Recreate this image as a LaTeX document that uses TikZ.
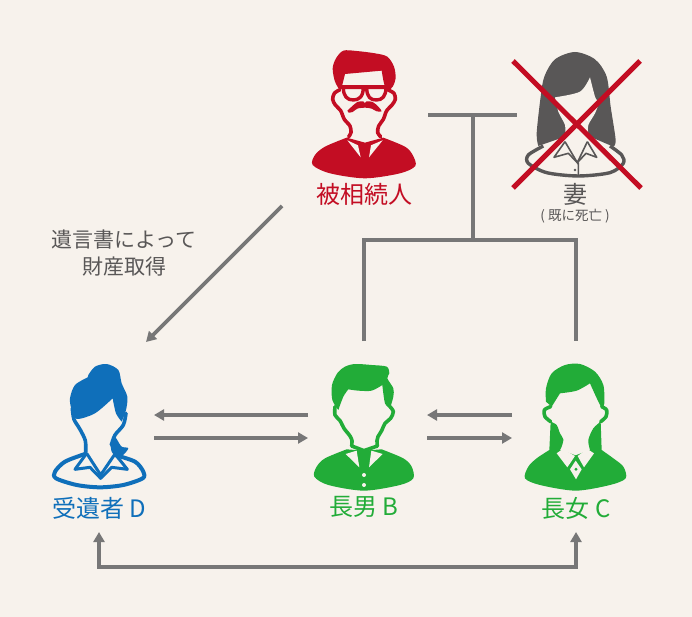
\documentclass[tikz,border=0pt]{standalone}
\usepackage{fontspec}
\setmainfont{Noto Sans CJK JP}
\usetikzlibrary{arrows.meta}
\definecolor{paper}{HTML}{F7F2EC}
\definecolor{redfig}{HTML}{C30D23}
\definecolor{greenfig}{HTML}{22AC38}
\definecolor{bluefig}{HTML}{0F6FBA}
\definecolor{greyfig}{HTML}{595757}
\definecolor{linegrey}{HTML}{777777}
\tikzset{
    connector/.style={draw=linegrey,line width=3.8pt},
    arrowline/.style={connector,-{Triangle[length=10pt,width=11pt]}},
    namelabel/.style={font=\fontsize{24}{26}\selectfont,inner sep=0pt},
    notelabel/.style={font=\fontsize{21}{24}\selectfont,text=greyfig,inner sep=0pt},
    zoomed/.style={x=0.3333pt,y=-0.3333pt},
    outline/.style={line width=3.6pt,line join=round,line cap=round},
    soft/.style={smooth,tension=.5},
}
\begin{document}
\begin{tikzpicture}[x=1pt,y=-1pt]
    \fill[paper] (0,0) rectangle (692,617);
    % deceased
    \begin{scope}[shift={(300,40)},zoomed,redfig]
        \fill plot[soft] coordinates {(122,155) (105,125) (98,85) (108,55) (130,32) (170,33) (225,40) (262,50) (282,80) (287,115) (278,140) (262,155)}
            -- plot[soft] coordinates {(262,155) (252,130) (245,92)} -- (135,102) -- (122,155) -- cycle;
        \draw[outline] plot[soft] coordinates {(118,150) (103,160) (98,178) (106,195) (122,212) (133,238) (150,258) (153,278) (146,290)};
        \draw[outline] plot[soft] coordinates {(265,150) (282,160) (286,178) (276,195) (260,212) (250,238) (236,258) (233,278) (242,290)};
        \draw[line width=3.4pt,line join=round] (130,142) -- (190,142) .. controls (190,172) and (175,180) .. (160,180) .. controls (142,180) and (130,170) .. cycle;
        \draw[line width=3.4pt,line join=round] (200,142) -- (258,142) .. controls (258,170) and (246,180) .. (229,180) .. controls (212,180) and (200,172) .. cycle;
        \draw[line width=3.4pt] (120,141) -- (265,141);
        \fill plot[soft] coordinates {(142,212) (155,200) (172,186) (190,184) (194,190) (200,184) (218,186) (235,200) (245,214) (230,214) (215,206) (195,203) (172,206) (158,216) (146,218)} -- cycle;
        \fill plot[soft] coordinates {(140,293) (75,320) (45,345) (38,375) (90,400) (195,415) (300,400) (346,378) (338,345) (315,320) (250,293)} -- (195,308) -- cycle;
        \fill[paper] (142,301) -- (174,316) -- (182,352) -- cycle;
        \fill[paper] (248,301) -- (213,316) -- (207,352) -- cycle;
    \end{scope}
    % wife
    \begin{scope}[shift={(500,40)},zoomed,greyfig]
        \fill plot[soft] coordinates {(115,318) (110,280) (122,170) (133,110) (165,58) (225,36) (285,58) (320,110) (332,200) (347,300) (340,320)} -- (270,290) -- (195,290) -- cycle;
        \fill[paper] plot[soft] coordinates {(165,172) (240,155) (270,112)} -- plot[soft] coordinates {(270,112) (285,170) (295,190) (285,220) (265,255) (265,285)} -- (262,305) -- (232,365) -- (195,305) -- plot[soft] coordinates {(195,285) (195,255) (175,215) (165,172)} -- cycle;
        \draw[line width=3.4pt,line join=round] plot[soft] coordinates {(130,318) (85,345) (85,370) (140,398) (235,408) (330,398) (370,370) (365,345) (330,318)};
        \draw[line width=1.6pt,line join=round] (195,305) -- (162,352) -- (205,340) -- (232,368) -- (258,340) -- (290,352) -- (262,305);
        \draw[line width=1.6pt] (195,305) -- (232,368) -- (262,305) (235,368) -- (235,405);
        \fill (225,390) circle (4);
    \end{scope}
    % heir D
    \begin{scope}[shift={(40,350)},zoomed,bluefig]
        \fill plot[soft] coordinates {(145,75) (165,50) (200,42) (235,60) (245,100) (262,140) (258,180) (245,215)}
            -- plot[soft] coordinates {(245,215) (228,190) (218,145)}
            -- plot[soft] coordinates {(218,145) (165,190) (110,207) (95,180) (90,145) (105,105) (143,82)} -- cycle;
        \draw[outline] plot[soft] coordinates {(97,175) (102,208) (120,238) (136,272) (137,310)};
        \draw[outline] plot[soft] coordinates {(258,190) (250,225) (225,255) (214,285)};
        \fill plot[soft] coordinates {(225,260) (212,290) (220,312) (245,318) (265,295) (245,290) (232,270)} -- cycle;
        \draw[line width=4pt,line join=round] plot[soft] coordinates {(135,312) (75,335) (45,365) (48,385) (110,405) (180,412) (250,405) (308,385) (310,365) (285,335) (225,315)};
        \draw[line width=3pt,line join=round] (140,310) -- (105,358) -- (150,352) -- (182,385) -- (215,352) -- (262,358) -- (225,312);
        \draw[line width=3pt,line join=round] (140,310) -- (182,375) -- (225,312);
    \end{scope}
    % son B
    \begin{scope}[shift={(300,350)},zoomed,greenfig]
        \fill plot[soft] coordinates {(115,180) (97,150) (96,105) (113,68) (135,50) (165,42) (215,45) (260,50) (268,70) (262,85) (280,115) (280,140) (270,175)}
            -- plot[soft] coordinates {(270,175) (255,160) (247,105)}
            -- plot[soft] coordinates {(247,105) (215,122) (175,122) (145,118)}
            -- plot[soft] coordinates {(145,118) (130,140) (115,180)} -- cycle;
        \draw[outline] plot[soft] coordinates {(105,170) (105,195) (120,212) (132,235) (150,258) (156,272) (155,288)};
        \draw[outline] plot[soft] coordinates {(270,170) (280,185) (272,205) (255,220) (245,242) (234,260) (231,272) (232,288)};
        \draw[outline] (155,288) -- (192,302) -- (232,288);
        \fill plot[soft] coordinates {(140,298) (75,325) (50,350) (43,380) (85,405) (192,422) (300,405) (340,385) (335,350) (310,325) (245,298)} -- (192,302) -- cycle;
        \fill[paper] (137,312) -- (170,302) -- (178,352) -- cycle;
        \fill[paper] (248,312) -- (214,302) -- (207,352) -- cycle;
        \fill[paper] (192,375) circle (6) (192,405) circle (6);
    \end{scope}
    % daughter C
    \begin{scope}[shift={(510,350)},zoomed,greenfig]
        \fill plot[soft] coordinates {(108,155) (108,115) (125,70) (165,45) (210,42) (255,65) (280,105) (283,160) (275,175)}
            -- plot[soft] coordinates {(275,175) (258,140) (240,100)}
            -- plot[soft] coordinates {(240,100) (200,122) (150,130)}
            -- plot[soft] coordinates {(150,130) (125,170)} -- cycle;
        \draw[outline] plot[soft] coordinates {(122,170) (103,180) (105,200) (122,215)};
        \draw[outline] plot[soft] coordinates {(275,170) (290,180) (288,200) (272,215)};
        \fill plot[soft] coordinates {(118,300) (80,325) (55,350) (45,385) (90,405) (197,422) (300,405) (347,385) (340,350) (310,325) (275,300)} -- (272,215) -- plot[soft] coordinates {(272,215) (250,235) (235,270) (240,300)} -- (197,316) -- plot[soft] coordinates {(150,300) (155,290) (160,268) (150,250) (140,225) (122,215)} -- cycle;
        \fill[paper] (140,310) -- (158,297) -- (195,318) -- (172,352) -- cycle;
        \fill[paper] (252,310) -- (232,297) -- (203,318) -- (222,352) -- cycle;
        \fill[paper] (197,332) -- (215,358) -- (198,388) -- (180,358) -- cycle;
        \fill (198,358) circle (5);
    \end{scope}
    % labels
    \node[namelabel,text=redfig] (deceased) at (364,194) {被相続人};
    \node[namelabel,text=greyfig] (wife) at (575,194) {妻};
    \node[inner sep=0pt,text=greyfig,font=\fontsize{13.5}{15}\selectfont] (wifenote) at (575,216) {( 既に死亡 )};
    \node[namelabel,text=bluefig] (heirD) at (99,508) {受遺者 D};
    \node[namelabel,text=greenfig] (sonB) at (364,507) {長男 B};
    \node[namelabel,text=greenfig] (daughterC) at (576,508) {長女 C};
    \node[notelabel] (willnote) at (124,240) {遺言書によって};
    \node[notelabel] (acquired) at (124,267) {財産取得};
    % connector ends
    \coordinate (coupleL) at (428,115);
    \coordinate (coupleR) at (517,115);
    \coordinate (coupleM) at (473,115);
    \coordinate (branch) at (473,240);
    \coordinate (sonUp) at (364,341);
    \coordinate (daughterUp) at (576,341);
    \coordinate (willStart) at (282,206);
    \coordinate (willEnd) at (146,342);
    \coordinate (heirRa) at (154,415);
    \coordinate (sonLa) at (308,415);
    \coordinate (heirRb) at (154,438);
    \coordinate (sonLb) at (308,438);
    \coordinate (sonRa) at (427,415);
    \coordinate (daughterLa) at (512,415);
    \coordinate (sonRb) at (427,438);
    \coordinate (daughterLb) at (512,438);
    \coordinate (heirDown) at (99,532);
    \coordinate (daughterDown) at (576,532);
    \draw[connector] (coupleL) -- (coupleR);
    \draw[connector] (coupleM) -- (branch);
    \draw[connector] (sonUp) |- (branch) -| (daughterUp);
    \draw[arrowline] (willStart) -- (willEnd);
    \draw[arrowline] (sonLa) -- (heirRa);
    \draw[arrowline] (heirRb) -- (sonLb);
    \draw[arrowline] (daughterLa) -- (sonRa);
    \draw[arrowline] (sonRb) -- (daughterLb);
    \draw[connector,{Triangle[length=10pt,width=11pt]}-{Triangle[length=10pt,width=11pt]}] (heirDown) |- (300,567) -| (daughterDown);
    % cross over the wife
    \begin{scope}[line width=5pt,draw=redfig]
        \draw (513,61) -- (641,188);
        \draw (640,61) -- (513,188);
    \end{scope}
\end{tikzpicture}
\end{document}
